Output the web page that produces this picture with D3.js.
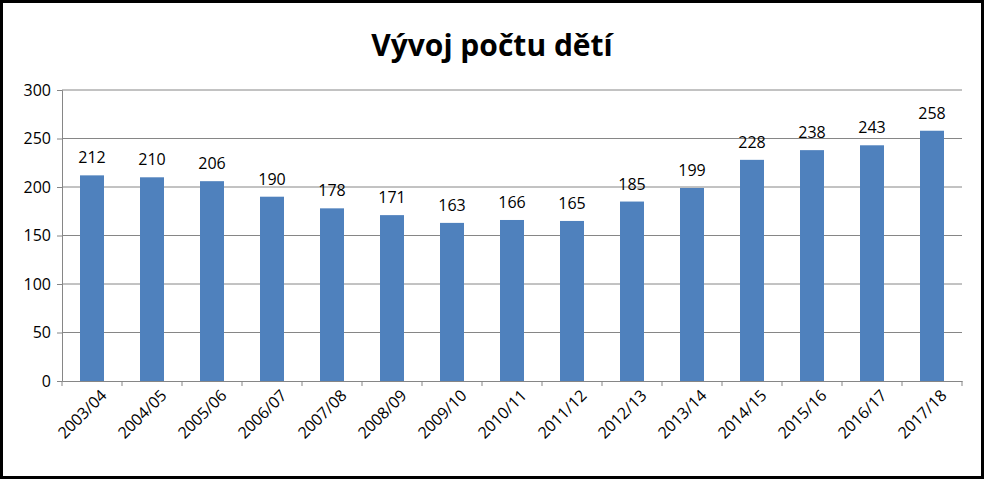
<!DOCTYPE html>
<html><head><meta charset="utf-8">
<script src="https://cdn.jsdelivr.net/npm/d3@7"></script>
<style>body{margin:0;background:#fff}</style>
</head><body>
<svg id="c" width="984" height="479"></svg>
<script>
var categories = ['2003/04','2004/05','2005/06','2006/07','2007/08','2008/09','2009/10','2010/11','2011/12','2012/13','2013/14','2014/15','2015/16','2016/17','2017/18'],
    values = [212,210,206,190,178,171,163,166,165,185,199,228,238,243,258],
    yTicks = [0,50,100,150,200,250,300];

var svg = d3.select('#c'),
    font = '"Open Sans", sans-serif',
    plotLeft = 62, plotRight = 962, plotTop = 90, plotBottom = 381;

svg.append('rect').attr('x', 1.5).attr('y', 1.5).attr('width', 981).attr('height', 476)
    .attr('fill', '#fff').attr('stroke', '#000').attr('stroke-width', 3);

svg.append('text').attr('x', 492).attr('y', 56).attr('text-anchor', 'middle')
    .attr('font-family', font).attr('font-weight', 'bold').attr('font-size', 30)
    .text('Vývoj počtu dětí');

var x = d3.scaleBand().domain(categories).range([plotLeft, plotRight]),
    y = d3.scaleLinear().domain([0, 300]).range([plotBottom, plotTop]);

svg.append('g').selectAll('line').data(yTicks.slice(1)).join('line')
    .attr('x1', plotLeft).attr('x2', plotRight)
    .attr('y1', function (d) { return y(d); }).attr('y2', function (d) { return y(d); })
    .attr('stroke', '#868686').attr('stroke-width', 1);

var bw = 24;
svg.append('g').selectAll('rect').data(values).join('rect')
    .attr('x', function (d, i) { return x(categories[i]) + x.bandwidth() / 2 - bw / 2; })
    .attr('y', function (d) { return y(d); }).attr('width', bw)
    .attr('height', function (d) { return plotBottom - y(d); })
    .attr('fill', '#4F81BD');

svg.append('g').selectAll('text').data(values).join('text')
    .attr('x', function (d, i) { return x(categories[i]) + x.bandwidth() / 2; })
    .attr('y', function (d) { return y(d) - 12; })
    .attr('text-anchor', 'middle').attr('font-family', font).attr('font-size', 16)
    .text(function (d) { return d; });

var ya = svg.append('g').attr('transform', 'translate(' + plotLeft + ',0)')
    .call(d3.axisLeft(y).tickValues(yTicks).tickSize(5).tickPadding(6));
ya.selectAll('text').attr('font-family', font).attr('font-size', 16).attr('fill', '#000');
ya.selectAll('path,line').attr('stroke', '#868686');

var xa = svg.append('g').attr('transform', 'translate(0,' + plotBottom + ')')
    .call(d3.axisBottom(x).tickSize(0).tickPadding(8));
xa.select('path').attr('stroke', '#868686');
xa.selectAll('text').attr('font-family', font).attr('font-size', 16).attr('fill', '#000')
    .attr('text-anchor', 'end').attr('dy', '0.35em')
    .attr('transform', 'translate(6,6) rotate(-45)');
svg.append('g').selectAll('line').data(d3.range(categories.length + 1)).join('line')
    .attr('x1', function (i) { return plotLeft + i * x.bandwidth(); })
    .attr('x2', function (i) { return plotLeft + i * x.bandwidth(); })
    .attr('y1', plotBottom).attr('y2', plotBottom + 5).attr('stroke', '#868686');
</script>
</body></html>
